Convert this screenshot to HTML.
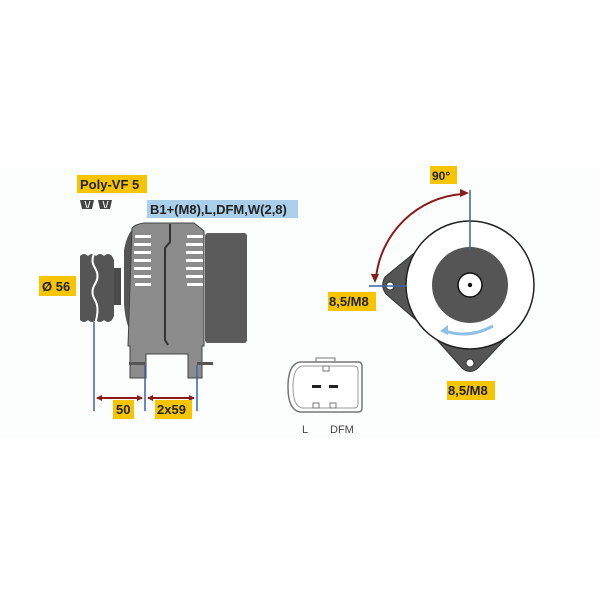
<!DOCTYPE html>
<html><head><meta charset="utf-8"><style>
html,body{margin:0;padding:0;background:#fff;}
svg{display:block;}
text{font-family:"Liberation Sans",sans-serif;font-weight:bold;}
</style></head><body>
<svg width="600" height="600" viewBox="0 0 600 600">
<rect width="600" height="600" fill="#fff"/>
<rect x="0" y="168" width="600" height="270" fill="#fcfdfd"/>
<!-- labels -->
<rect x="77" y="175" width="70" height="18" fill="#f6c500"/>
<text x="80" y="189" font-size="13" fill="#222">Poly-VF 5</text>
<path d="M80 200h14l-2 9h-10zM98 200h14l-2 9h-10z" fill="#444"/>
<path d="M85 201l2 7M90 201l-2 7M103 201l2 7M108 201l-2 7" stroke="#fff" stroke-width="1"/>
<rect x="147" y="200" width="151" height="18" fill="#a9cfea"/>
<text x="150" y="214" font-size="13" fill="#222">B1+(M8),L,DFM,W(2,8)</text>
<rect x="39" y="276" width="37" height="20" fill="#f6c500"/>
<text x="42" y="291" font-size="13" fill="#222">Ø 56</text>
<!-- pulley -->
<rect x="113" y="268" width="8" height="37" fill="#4a4a4a"/>
<path d="M80 256 q4 -4 8 0 q4 -4 8 0 q4 -4 8 0 q4 -4 8 0 l2 4 v56 l-2 4 q-4 4 -8 0 q-4 4 -8 0 q-4 4 -8 0 q-4 4 -8 0z" fill="#555"/>
<path d="M95 252 q-5 8 0 16 q5 8 0 16 q-5 8 0 16 q5 8 0 24" stroke="#fff" stroke-width="2" fill="none"/>
<!-- body -->
<path d="M124 250 q4 -22 16 -26 v120 q-14 -10 -16 -40z" fill="#555"/>
<rect x="205" y="233" width="42" height="110" rx="3" fill="#5b5b5b"/>
<path d="M132 228 q4 -4 12 -5 h50 l10 8 v115 h-2 v32 h-14 v-24 h-42 v24 h-16 v-32 h-2 z" fill="#8c8c8c" stroke="#444" stroke-width="1"/>
<rect x="129" y="362" width="16" height="3" fill="#555"/>
<rect x="197" y="362" width="16" height="3" fill="#555"/>
<path d="M170 224 v18 l-5 6 v92 l3 5" stroke="#333" stroke-width="2" fill="none"/>
<g fill="#fff">
<rect x="135" y="235" width="16" height="3"/><rect x="134" y="243" width="17" height="3"/><rect x="134" y="251" width="17" height="3"/><rect x="134" y="259" width="17" height="3"/><rect x="134" y="267" width="17" height="3"/><rect x="134" y="275" width="17" height="3"/><rect x="135" y="283" width="16" height="3"/>
<rect x="187" y="235" width="16" height="3"/><rect x="186" y="243" width="17" height="3"/><rect x="186" y="251" width="17" height="3"/><rect x="186" y="259" width="17" height="3"/><rect x="186" y="267" width="17" height="3"/><rect x="186" y="275" width="17" height="3"/><rect x="187" y="283" width="16" height="3"/>
</g>
<!-- dims -->
<g stroke="#3a63a8" stroke-width="1.5">
<line x1="94" y1="322" x2="94" y2="411"/><line x1="145" y1="365" x2="145" y2="411"/><line x1="197" y1="365" x2="197" y2="411"/>
</g>
<g stroke="#8b1a1a" stroke-width="2" fill="#8b1a1a">
<line x1="97" y1="398" x2="142" y2="398"/><line x1="148" y1="398" x2="194" y2="398"/>
<path d="M96 398l6 -3v6z M143 398l-6 -3v6z M147 398l6 -3v6z M195 398l-6 -3v6z" stroke="none"/>
</g>
<rect x="113" y="400" width="21" height="19" fill="#f6c500"/>
<text x="116" y="414" font-size="13" fill="#222">50</text>
<rect x="155" y="400" width="37" height="19" fill="#f6c500"/>
<text x="157" y="414" font-size="13" fill="#222">2x59</text>
<!-- connector -->
<rect x="316" y="358" width="19" height="9" fill="#fff" stroke="#777"/>
<path d="M300 362 h58 q4 0 4 4 v42 q0 4 -4 4 h-58 q-12 -2 -12 -25 q0 -23 12 -25z" fill="#fff" stroke="#777" stroke-width="1.5"/>
<path d="M302 366 h52 q4 0 4 4 v34 q0 4 -4 4 h-52 q-9 -2 -9 -21 q0 -19 9 -21z" fill="none" stroke="#999" stroke-width="1"/>
<rect x="323" y="366" width="6" height="5" fill="#fff" stroke="#777"/>
<rect x="312" y="385" width="9" height="3" fill="#222"/><rect x="329" y="385" width="9" height="3" fill="#222"/>
<rect x="313" y="403" width="6" height="5" fill="#fff" stroke="#777"/><rect x="330" y="403" width="6" height="5" fill="#fff" stroke="#777"/>
<text x="302" y="433" font-size="11" fill="#444" style="font-weight:normal">L</text>
<text x="330" y="433" font-size="11" fill="#444" style="font-weight:normal">DFM</text>
<!-- right view -->
<path d="M430 240 L385 277 q-5 9 1 17 L430 332z" fill="#555" stroke="#333"/>
<path d="M428 330 L462 368 q8 7 16 0 L514 330z" fill="#555" stroke="#333"/>
<circle cx="390" cy="286" r="4" fill="#fff" stroke="#333"/>
<circle cx="470" cy="363" r="4" fill="#fff" stroke="#333"/>
<circle cx="470" cy="285" r="64" fill="#fff" stroke="#222" stroke-width="1.5"/>
<circle cx="470" cy="285" r="38" fill="#555"/>
<circle cx="470" cy="285" r="12" fill="#fff" stroke="#111" stroke-width="1.5"/>
<circle cx="470" cy="285" r="2.2" fill="#111"/>
<path d="M445 331 q24 8 48 -5" stroke="#8fc0e6" stroke-width="3" fill="none"/>
<path d="M440 331 l8 -6 v10z" fill="#8fc0e6"/>
<g stroke="#3a63a8" stroke-width="1.5">
<line x1="470" y1="190" x2="470" y2="250"/><line x1="369" y1="286" x2="407" y2="286"/>
</g>
<path d="M462 194 A94 94 0 0 0 376 278" stroke="#8b1a1a" stroke-width="2" fill="none"/>
<path d="M469 193 l-9 -4 v8z M375 283 l-4 -9 h8z" fill="#8b1a1a"/>
<rect x="430" y="166" width="27" height="18" fill="#f6c500"/>
<text x="432" y="180" font-size="12" fill="#222">90°</text>
<rect x="328" y="292" width="48" height="19" fill="#f6c500"/>
<text x="329" y="306" font-size="13" fill="#222">8,5/M8</text>
<rect x="447" y="381" width="48" height="19" fill="#f6c500"/>
<text x="448" y="395" font-size="13" fill="#222">8,5/M8</text>
</svg>
</body></html>
